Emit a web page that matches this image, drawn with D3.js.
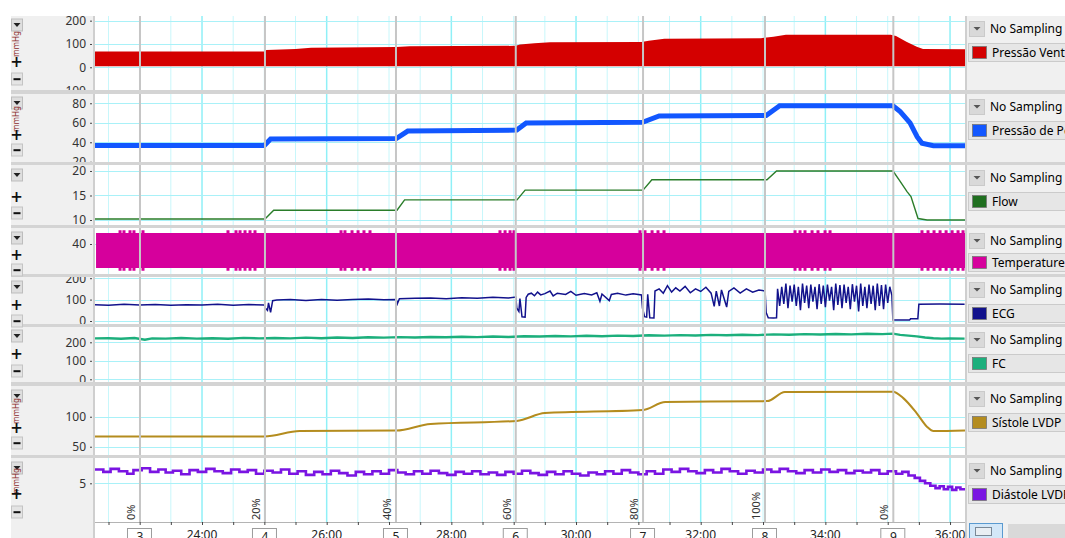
<!DOCTYPE html>
<html><head><meta charset="utf-8">
<script src="https://cdn.jsdelivr.net/npm/d3@7"></script>
<style>body{margin:0;background:#fff;overflow:hidden}svg{display:block;font-family:"Noto Sans","DejaVu Sans",sans-serif}</style>
</head><body><svg id="c" width="1065" height="538"></svg>
<script>
// ---------------- DATA ----------------
const seriesNames = ["Pressão Ventricular","Pressão de Perfusão","Flow","Temperature","ECG","FC","Sístole LVDP","Diástole LVDP"];
const seriesColors = ["#d40000","#1257ff","#1f6e1f","#d6009c","#12128c","#1caf7c","#b48c1e","#7a14e2"];
const timeLabelSecs = [1440,1560,1680,1800,1920,2040,2160];
const timeLabels = ["24:00","26:00","28:00","30:00","32:00","34:00","36:00"];
const eventTimes = [1380.3,1500.6,1626.7,1742,1864.5,1981.9,2105.4];
const eventNumbers = ["3","4","5","6","7","8","9"];
const eventPercents = ["0%","20%","40%","60%","80%","100%","0%"];

const pvTicks = [200,100,0,-100];
const perfTicks = [80,60,40,20];
const flowTicks = [20,15,10];
const tempTicks = [40];
const ecgTicks = [200,100,0];
const fcTicks = [200,100,0];
const sysTicks = [100,50];
const diaTicks = [5];

// Pressão Ventricular: band (time, upper, lower)
const pvTime  = [1337,1400,1500,1502,1530,1545,1627,1640,1742,1746,1760,1775,1863,1870,1885,1978,1990,2002,2103,2108,2118,2128,2134,2174.4];
const pvUpper = [68,68,68,74,78,84,87,90,92,98,103,107,109,114,122,125,131,140,140,134,110,88,78,77];
const pvLower = [5,4,5,5,4,5,5,4,5,4,5,4,5,4,5,4,5,4,5,5,4,5,4,5];

// Pressão de Perfusão
const perfTime = [1337,1500,1506,1627,1638,1743,1752,1864,1880,1983,1996,2105,2112,2121.5,2128.3,2133,2144,2174.4];
const perfVal  = [36.7,36.7,43.4,43.8,51.5,52.5,59.8,60.5,67.0,67.5,77.5,77.5,71.4,59.8,45.7,39.0,36.5,36.5];

// Flow
const flowTime = [1337,1500.6,1509,1627.7,1635,1743.2,1751,1864.5,1873,1983.8,1993,2105.1,2111,2118.6,2122.4,2129.2,2137.9,2174.4];
const flowVal  = [10.2,10.2,12.0,12.0,14.1,14.1,16.1,16.1,18.2,18.2,20.0,20.0,18.2,15.8,14.8,10.3,10.0,10.0];

// Temperature band + edge spikes
const tempTime = [1338,2174.4];
const tempHigh = [48.8,48.8];
const tempLow  = [20.8,20.8];
const tempSpikeHigh = 51;
const tempSpikeLow = 18.6;
const tempSpikeTimes = [1361.1,1364.9,1370.7,1374.5,1383.2,1465,1472.7,1476.6,1481.4,1486.2,1491,1573.8,1577.6,1584.4,1590.2,1595.9,1601.7,1726.8,1731.7,1736.5,1740.3,1861.6,1866.4,1873.2,1878.9,1884.7,2010.8,2015.6,2020.4,2027.2,2032.9,2039.7,2044.5,2133,2138.8,2144.6,2150.4,2156.2,2162,2167.7,2172.5];

// ECG (time, value)
const ecgPoints = [[1337,76],[1350,74],[1365,78],[1380,75],[1395,77],[1410,74],[1425,76],[1440,75],[1455,78],[1470,74],[1485,77],[1500,75],
[1501,60],[1503,50],[1504,85],[1506,40],[1508,95],[1512,98],
[1525,100],[1540,96],[1555,101],[1570,97],[1585,100],[1600,103],[1615,99],[1627,100],
[1628,80],[1630,104],[1645,106],[1660,108],[1675,104],[1690,109],[1705,106],[1720,111],[1735,108],[1742,112],
[1743,60],[1745,45],[1746,105],[1748,20],[1751,18],[1752,110],[1754,125],[1757,130],[1760,118],[1763,135],[1766,122],[1770,128],[1775,140],[1778,117],[1782,130],[1790,124],[1795,138],[1800,120],[1808,128],[1815,122],[1820,132],[1823,92],[1825,126],[1832,95],[1834,124],[1840,130],[1848,121],[1855,127],[1863,122],
[1864,60],[1866,20],[1868,18],[1869,125],[1871,15],[1875,14],[1876,140],[1880,150],[1884,130],[1888,165],[1892,135],[1896,155],[1900,140],[1905,162],[1910,132],[1915,150],[1920,138],[1925,158],[1930,130],[1933,68],[1935,140],[1938,70],[1940,145],[1945,65],[1947,138],[1952,155],[1958,130],[1964,150],[1970,135],[1976,145],[1982,140],
[1983,40],[1985,15],[1990,14],[1993,15],[1994,150],[1996,70],[1998,160],[2000,80],[2002,175],[2004,60],[2006,165],[2008,90],[2010,170],[2012,70],[2014,160],[2016,50],[2018,175],[2020,85],[2022,165],[2024,60],[2026,170],[2028,90],[2030,160],[2032,55],[2034,172],[2036,80],[2038,165],[2040,65],[2042,170],[2044,95],[2046,160],[2048,50],[2050,175],[2052,75],[2054,168],[2056,60],[2058,170],[2060,85],[2062,160],[2064,55],[2066,172],[2068,90],[2070,165],[2072,45],[2074,175],[2076,70],[2078,160],[2080,60],[2082,170],[2084,80],[2086,165],[2088,50],[2090,175],[2092,70],[2094,168],[2096,55],[2098,170],[2100,85],[2102,160],[2104,120],
[2105,5],[2121,5],[2122,10],[2129,10],[2130,78],[2150,79],[2174,78]];

// FC (time, value)
const fcPoints = [[1337,221],[1350,222],[1362,219],[1375,223],[1385,214],[1392,221],[1405,220],[1420,223],[1435,220],[1450,222],[1465,219],[1480,224],[1495,221],[1510,223],[1525,221],[1540,225],[1555,222],[1570,226],[1585,223],[1600,227],[1615,225],[1630,228],[1645,226],[1660,229],[1675,227],[1690,230],[1705,228],[1720,231],[1735,229],[1750,233],[1765,231],[1780,234],[1795,232],[1810,235],[1825,233],[1840,236],[1855,234],[1870,238],[1885,236],[1900,239],[1915,237],[1930,240],[1945,238],[1960,241],[1975,239],[1990,243],[2005,241],[2020,244],[2035,242],[2050,245],[2065,243],[2080,246],[2095,244],[2105,247],[2112,240],[2120,236],[2128,232],[2136,226],[2144,222],[2152,220],[2160,221],[2174,220]];

// Sístole LVDP
const sysTime = [1337,1500,1534,1627,1660,1743,1770,1864,1886,1984,2001,2105,2115,2128,2138,2144,2174.4];
const sysVal  = [67,67,76,77,88,93,106,111,124.5,126,141,141.7,131,105.6,83,76,77];

// Diástole LVDP (time, value)
const diaPoints = [[1337,7.3],[1345,6.9],[1352,7.4],[1360,7.0],[1368,6.6],[1374,7.2],[1382,7.5],[1390,6.9],[1398,7.3],[1405,6.8],[1412,7.1],[1420,6.5],[1428,7.2],[1436,6.9],[1444,7.4],[1452,7.0],[1460,6.7],[1468,7.3],[1476,6.9],[1484,7.2],[1492,6.6],[1500,7.1],[1508,6.8],[1516,7.3],[1524,6.6],[1532,7.0],[1540,6.4],[1548,6.9],[1556,6.5],[1564,7.1],[1572,6.7],[1580,6.3],[1588,6.9],[1596,6.5],[1604,7.0],[1612,6.6],[1620,7.2],[1628,6.8],[1636,6.5],[1644,7.0],[1652,6.6],[1660,7.1],[1668,6.7],[1676,6.4],[1684,6.9],[1692,6.6],[1700,7.0],[1708,6.5],[1716,6.8],[1724,6.4],[1732,6.9],[1740,6.6],[1748,7.1],[1756,6.7],[1764,6.4],[1772,6.9],[1780,6.5],[1788,7.0],[1796,6.6],[1804,6.3],[1812,6.8],[1820,6.5],[1828,7.0],[1836,6.6],[1844,7.2],[1852,6.8],[1860,6.5],[1868,7.0],[1876,6.6],[1884,7.3],[1892,6.9],[1900,7.4],[1908,7.0],[1916,6.7],[1924,7.2],[1932,6.8],[1940,7.4],[1948,7.0],[1956,6.6],[1964,7.1],[1972,6.8],[1980,7.3],[1988,6.9],[1996,7.4],[2004,7.0],[2012,6.7],[2020,7.2],[2028,6.8],[2036,7.3],[2044,6.9],[2052,7.2],[2060,6.7],[2068,7.1],[2076,6.8],[2084,7.2],[2092,6.6],[2100,7.0],[2108,6.6],[2114,6.9],[2120,6.3],[2126,5.9],[2131,5.4],[2136,5.0],[2141,4.6],[2146,4.2],[2150,4.5],[2154,4.0],[2158,4.4],[2162,3.9],[2166,4.3],[2170,4.0],[2174.4,4.2]];

// ---------------- LAYOUT ----------------
const PL = 95, PR = 965, TOP = 16, AXY = 522;
const layout = [
 {top:16, bottom:90, domain:[-97.4,220], ticks:pvTicks, drop:25, unit:44, plus:62, minus:79},
 {top:94, bottom:162, domain:[19.8,89.5], ticks:perfTicks, drop:103, unit:119, plus:135, minus:150},
 {top:165, bottom:225, domain:[8.98,21.22], ticks:flowTicks, drop:175, unit:null, plus:197, minus:213},
 {top:228, bottom:274, domain:[16,52.8], ticks:tempTicks, drop:238, unit:null, plus:255, minus:270},
 {top:277, bottom:324, domain:[-14,205.6], ticks:ecgTicks, drop:287, unit:null, plus:305, minus:321},
 {top:327, bottom:382, domain:[-14.6,282.7], ticks:fcTicks, drop:336, unit:null, plus:354, minus:371},
 {top:386, bottom:455, domain:[36.2,151.2], ticks:sysTicks, drop:396, unit:411, plus:428, minus:443},
 {top:458, bottom:522, domain:[-1.45,9.22], ticks:diaTicks, drop:468, unit:481, plus:494, minus:512}
];

const svg = d3.select("#c");
const x = d3.scaleLinear().domain([1337,2174.4]).range([PL,PR]);
layout.forEach(p => { p.y = d3.scaleLinear().domain(p.domain).range([p.bottom, p.top]); });

// backgrounds
svg.append("rect").attr("width",1065).attr("height",538).attr("fill","#fff");
svg.append("rect").attr("x",11).attr("y",TOP).attr("width",82).attr("height",538-TOP).attr("fill","#f0f0f0");
svg.append("rect").attr("x",966).attr("y",TOP).attr("width",99).attr("height",538-TOP).attr("fill","#f0f0f0");
svg.append("rect").attr("x",PL).attr("y",TOP).attr("width",PR-PL).attr("height",538-TOP).attr("fill","#fff");

const defs = svg.append("defs");
layout.forEach((p,i) => {
  defs.append("clipPath").attr("id","cp"+i).append("rect").attr("x",PL).attr("y",p.top).attr("width",PR-PL).attr("height",p.bottom-p.top);
  defs.append("clipPath").attr("id","ca"+i).append("rect").attr("x",11).attr("y",p.top).attr("width",84).attr("height",p.bottom-p.top);
});

// vertical grid lines (every 30 s, brighter at labelled ticks)
const minorTicks = d3.range(1350, 2175, 30);
const gridG = svg.append("g");
gridG.selectAll("line.vm").data(minorTicks).join("line")
  .attr("x1",d=>x(d)).attr("x2",d=>x(d)).attr("y1",TOP).attr("y2",AXY)
  .attr("stroke",d=> timeLabelSecs.includes(d) ? "#8ff0f7" : "#c8f7fb")
  .attr("stroke-width",d=> timeLabelSecs.includes(d) ? 1.5 : 1);

// horizontal grid lines
layout.forEach((p,i) => {
  gridG.append("g").attr("clip-path",`url(#cp${i})`).selectAll("line").data(p.ticks).join("line")
    .attr("x1",PL).attr("x2",PR).attr("y1",d=>Math.round(p.y(d))+0.5).attr("y2",d=>Math.round(p.y(d))+0.5)
    .attr("stroke","#a9f1f8").attr("stroke-width",1);
});

// ---------------- SERIES ----------------
const dataG = svg.append("g");
// 1 Pressão Ventricular
{
  const p = layout[0];
  const rows = pvTime.map((t,i)=>({t, hi:pvUpper[i], lo:pvLower[i]}));
  dataG.append("path").attr("clip-path","url(#cp0)").datum(rows)
    .attr("d", d3.area().x(d=>x(d.t)).y0(d=>p.y(d.lo)).y1(d=>p.y(d.hi)))
    .attr("fill",seriesColors[0]);
}
// 2 Perfusão
{
  const p = layout[1];
  dataG.append("path").attr("clip-path","url(#cp1)").datum(perfTime.map((t,i)=>[t,perfVal[i]]))
    .attr("d", d3.line().x(d=>x(d[0])).y(d=>p.y(d[1])))
    .attr("fill","none").attr("stroke",seriesColors[1]).attr("stroke-width",5);
}
// 3 Flow
{
  const p = layout[2];
  dataG.append("path").attr("clip-path","url(#cp2)").datum(flowTime.map((t,i)=>[t,flowVal[i]]))
    .attr("d", d3.line().x(d=>x(d[0])).y(d=>p.y(d[1])))
    .attr("fill","none").attr("stroke","#2a7d2a").attr("stroke-width",1.4);
}
// 4 Temperature
{
  const p = layout[3];
  const g = dataG.append("g").attr("clip-path","url(#cp3)");
  g.append("path").datum(tempTime.map((t,i)=>({t,hi:tempHigh[i],lo:tempLow[i]})))
    .attr("d", d3.area().x(d=>x(d.t)).y0(d=>p.y(d.lo)).y1(d=>p.y(d.hi)))
    .attr("fill",seriesColors[3]);
  g.selectAll("rect.st").data(tempSpikeTimes).join("rect")
    .attr("x",d=>x(d)-1.5).attr("width",3)
    .attr("y",p.y(tempSpikeHigh)).attr("height",p.y(tempHigh[0])-p.y(tempSpikeHigh)+0.5)
    .attr("fill",seriesColors[3]);
  g.selectAll("rect.sb").data(tempSpikeTimes).join("rect")
    .attr("x",d=>x(d)-1.5).attr("width",3)
    .attr("y",p.y(tempLow[0])-0.5).attr("height",p.y(tempSpikeLow)-p.y(tempLow[0])+0.5)
    .attr("fill",seriesColors[3]);
}
// 5 ECG
{
  const p = layout[4];
  dataG.append("path").attr("clip-path","url(#cp4)").datum(ecgPoints)
    .attr("d", d3.line().x(d=>x(d[0])).y(d=>p.y(d[1])))
    .attr("fill","none").attr("stroke",seriesColors[4]).attr("stroke-width",1.5);
}
// 6 FC
{
  const p = layout[5];
  dataG.append("path").attr("clip-path","url(#cp5)").datum(fcPoints)
    .attr("d", d3.line().x(d=>x(d[0])).y(d=>p.y(d[1])))
    .attr("fill","none").attr("stroke",seriesColors[5]).attr("stroke-width",2.4);
}
// 7 Sístole
{
  const p = layout[6];
  dataG.append("path").attr("clip-path","url(#cp6)").datum(sysTime.map((t,i)=>[t,sysVal[i]]))
    .attr("d", d3.line().curve(d3.curveMonotoneX).x(d=>x(d[0])).y(d=>p.y(d[1])))
    .attr("fill","none").attr("stroke",seriesColors[6]).attr("stroke-width",2);
}
// 8 Diástole
{
  const p = layout[7];
  dataG.append("path").attr("clip-path","url(#cp7)").datum(diaPoints)
    .attr("d", d3.line().curve(d3.curveStepAfter).x(d=>x(d[0])).y(d=>p.y(d[1])))
    .attr("fill","none").attr("stroke",seriesColors[7]).attr("stroke-width",2.6);
}

// event lines
svg.append("g").selectAll("line").data(eventTimes).join("line")
  .attr("x1",d=>x(d)).attr("x2",d=>x(d)).attr("y1",TOP).attr("y2",AXY)
  .attr("stroke","#c6c6c6").attr("stroke-width",2);

// percentage labels
svg.append("g").selectAll("text").data(eventTimes).join("text")
  .attr("transform",d=>`translate(${x(d)-5},520) rotate(-90)`)
  .attr("font-size",11).attr("fill","#333").text((d,i)=>eventPercents[i]);

// plot borders
svg.append("rect").attr("x",93).attr("y",TOP).attr("width",2).attr("height",538-TOP).attr("fill","#cfcfcf");
svg.append("rect").attr("x",965).attr("y",TOP).attr("width",2).attr("height",538-TOP).attr("fill","#cfcfcf");

// separators
const seps = layout.slice(0,-1).map((p,i)=>[p.bottom, layout[i+1].top]);
svg.append("g").selectAll("rect").data(seps).join("rect")
  .attr("x",11).attr("y",d=>d[0]).attr("width",1065-11).attr("height",d=>d[1]-d[0])
  .attr("fill","#d4d4d4");

// ---------------- LEFT AXES & BUTTONS ----------------
layout.forEach((p,i) => {
  const outer = svg.append("g").attr("clip-path",`url(#ca${i})`);
  const g = outer.append("g").attr("transform","translate(92,0)")
    .call(d3.axisLeft(p.y).tickValues(p.ticks).tickSize(2).tickPadding(4).tickFormat(d=>String(d)));
  g.select(".domain").remove();
  g.selectAll("text").attr("font-size",12).attr("fill","#333").attr("font-family","'Noto Sans','DejaVu Sans',sans-serif");
  g.selectAll(".tick line").attr("stroke","#444");

  const b = svg.append("g");
  b.append("rect").attr("x",11.5).attr("y",p.drop-6).attr("width",11).attr("height",12).attr("fill","#dedede").attr("stroke","#bdbdbd");
  b.append("path").attr("d",`M${13.5},${p.drop-2} L${20.5},${p.drop-2} L${17},${p.drop+2} Z`).attr("fill","#222");
  if (p.unit !== null) {
    b.append("text").attr("transform",`translate(19,${p.unit}) rotate(-90)`).attr("text-anchor","middle")
      .attr("font-size",8).attr("fill","#8a2a2a").text("mmHg");
  }
  b.append("text").attr("x",16.5).attr("y",p.plus).attr("dy","0.36em").attr("text-anchor","middle")
    .attr("font-size",15).attr("font-weight","bold").attr("font-family","DejaVu Sans").attr("fill","#111").text("+");
  b.append("rect").attr("x",11.5).attr("y",p.minus-6).attr("width",11).attr("height",12).attr("fill","#e4e4e4").attr("stroke","#c4c4c4");
  b.append("rect").attr("x",13.5).attr("y",p.minus-0.8).attr("width",7).attr("height",2).attr("fill","#111");
});

// ---------------- RIGHT LEGEND ----------------
layout.forEach((p,i) => {
  const g = svg.append("g");
  const t = p.top;
  g.append("rect").attr("x",969.5).attr("y",t+5.5).attr("width",15).attr("height",15).attr("fill","#d9d9d9").attr("stroke","#cacaca");
  g.append("path").attr("d",`M${973.5},${t+11} L${980.5},${t+11} L${977},${t+14.5} Z`).attr("fill","#555");
  g.append("text").attr("x",990).attr("y",t+13).attr("dy","0.35em").attr("font-size",12).attr("fill","#000").text("No Sampling");
  const ly = i===3 ? t+25 : t+27;
  g.append("rect").attr("x",968.5).attr("y",ly+0.5).attr("width",110).attr("height",18).attr("fill","#e6e6e6").attr("stroke","#cbcbcb");
  g.append("rect").attr("x",972.5).attr("y",ly+3.5).attr("width",14).attr("height",12).attr("fill",seriesColors[i]).attr("stroke","#777").attr("stroke-width",0.8);
  g.append("text").attr("x",992).attr("y",ly+9.5).attr("dy","0.35em").attr("font-size",12).attr("fill","#000").text(seriesNames[i]);
});

// ---------------- BOTTOM AXIS ----------------
svg.append("rect").attr("x",11).attr("y",AXY).attr("width",82).attr("height",16).attr("fill","#f0f0f0");
svg.append("line").attr("x1",PL).attr("x2",PR).attr("y1",AXY+0.5).attr("y2",AXY+0.5).attr("stroke","#b4b4b4");
const bx = svg.append("g").attr("transform",`translate(0,${AXY})`)
  .call(d3.axisBottom(x).tickValues(minorTicks).tickSize(3).tickFormat(""));
bx.select(".domain").remove();
bx.selectAll(".tick line").attr("stroke","#444");
svg.append("g").selectAll("text").data(timeLabelSecs).join("text")
  .attr("x",d=>x(d)).attr("y",539).attr("text-anchor","middle").attr("font-size",12).attr("fill","#222")
  .text((d,i)=>timeLabels[i]);
const evG = svg.append("g");
evG.selectAll("rect").data(eventTimes).join("rect")
  .attr("x",d=>x(d)-12.5).attr("y",528.5).attr("width",24).attr("height",14)
  .attr("fill","#fff").attr("stroke","#9c9c9c");
evG.selectAll("text").data(eventTimes).join("text")
  .attr("x",d=>x(d)).attr("y",541).attr("text-anchor","middle").attr("font-size",12).attr("fill","#222")
  .text((d,i)=>eventNumbers[i]);
svg.append("rect").attr("x",969.5).attr("y",523.5).attr("width",33).attr("height",16).attr("fill","#d3e7f8").attr("stroke","#5a9ad0");
svg.append("rect").attr("x",975.5).attr("y",527.5).attr("width",16).attr("height",8).attr("fill","#e9eef3").attr("stroke","#7a8896");
svg.append("rect").attr("x",1008).attr("y",524).attr("width",57).attr("height",14).attr("fill","#d9d9d9");
</script></body></html>
